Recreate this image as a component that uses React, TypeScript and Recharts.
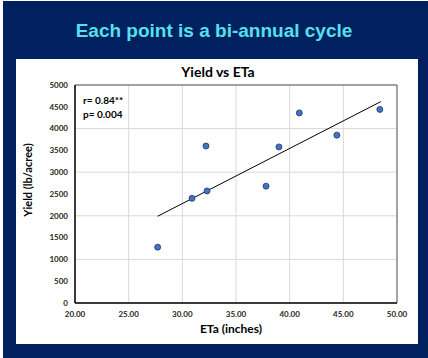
import React from "react"
import {
  ScatterChart,
  Scatter,
  XAxis,
  YAxis,
  CartesianGrid,
  ReferenceLine,
} from "recharts"

// ETa (inches) vs yield (lb/acre), one point per bi-annual cycle
const etaValues = [27.7, 30.9, 32.2, 32.3, 37.8, 39.0, 40.9, 44.4, 48.4]
const yieldValues = [1280, 2400, 3600, 2570, 2680, 3580, 4360, 3850, 4440]

// linear trend end points
const trendStart = { x: 27.7, y: 1990 }
const trendEnd = { x: 48.5, y: 4620 }

const xTicks = [20, 25, 30, 35, 40, 45, 50]
const yTicks = [0, 500, 1000, 1500, 2000, 2500, 3000, 3500, 4000, 4500, 5000]

const statLines = ["r= 0.84**", "p= 0.004"]

const points = etaValues.map((x, i) => ({ x, y: yieldValues[i] }))

const tickStyle = { fontSize: 8, fontWeight: 700, fill: "#262626", fontFamily: "Lato" }

const Dot = (props: any) => (
  <circle cx={props.cx} cy={props.cy} r={3} fill="#4472c4" stroke="#1f3864" strokeWidth={0.8} />
)

export default function App() {
  return (
    <div style={{ position: "absolute", left: 0, top: 0, width: 428, height: 358, background: "#ffffff" }}>
      <div style={{ position: "absolute", left: 3, top: 1, width: 425, height: 357, background: "#002060" }} />
      <div
        style={{
          position: "absolute",
          left: 0,
          top: 20,
          width: 428,
          textAlign: "center",
          color: "#55e0ee",
          fontFamily: "Liberation Sans",
          fontWeight: 700,
          fontSize: 19,
        }}
      >
        Each point is a bi-annual cycle
      </div>
      <div style={{ position: "absolute", left: 16, top: 59, width: 402, height: 285, background: "#ffffff" }}>
        <ScatterChart width={402} height={285} margin={{ top: 26, right: 21, left: 9, bottom: 16 }}>
          <CartesianGrid stroke="#d9d9d9" />
          <XAxis
            type="number"
            dataKey="x"
            domain={[20, 50]}
            ticks={xTicks}
            tickFormatter={(v: number) => v.toFixed(2)}
            tick={tickStyle}
            tickLine={false}
            tickSize={0}
            tickMargin={8}
            height={25}
            axisLine={{ stroke: "#000", strokeWidth: 1.5 }}
            allowDataOverflow
          />
          <YAxis
            type="number"
            dataKey="y"
            domain={[0, 5000]}
            ticks={yTicks}
            tick={tickStyle}
            tickLine={false}
            tickSize={0}
            tickMargin={7}
            width={50}
            axisLine={{ stroke: "#000", strokeWidth: 1.5 }}
            allowDataOverflow
          />
          <ReferenceLine x={50} stroke="#595959" strokeWidth={1} />
          <ReferenceLine y={5000} stroke="#595959" strokeWidth={1} />
          <ReferenceLine segment={[trendStart, trendEnd]} stroke="#000" strokeWidth={1} />
          <Scatter data={points} shape={Dot} isAnimationActive={false} />
        </ScatterChart>
        <div
          style={{
            position: "absolute",
            left: 0,
            top: 4,
            width: 404,
            textAlign: "center",
            fontFamily: "Lato",
            fontWeight: 700,
            fontSize: 14,
            color: "#000",
          }}
        >
          Yield vs ETa
        </div>
        {statLines.map((s, i) => (
          <div
            key={s}
            style={{
              position: "absolute",
              left: 67,
              top: 35 + i * 14,
              fontFamily: "Lato",
              fontWeight: 700,
              fontSize: 10,
              color: "#000",
              whiteSpace: "nowrap",
            }}
          >
            {s}
          </div>
        ))}
        <div
          style={{
            position: "absolute",
            left: 115,
            top: 262,
            width: 200,
            textAlign: "center",
            fontFamily: "Lato",
            fontWeight: 700,
            fontSize: 12,
            color: "#000",
          }}
        >
          ETa (inches)
        </div>
        <div
          style={{
            position: "absolute",
            left: 12 - 60,
            top: 121 - 8,
            width: 120,
            height: 16,
            lineHeight: "16px",
            textAlign: "center",
            transform: "rotate(-90deg)",
            fontFamily: "Lato",
            fontWeight: 700,
            fontSize: 11,
            color: "#000",
            whiteSpace: "nowrap",
          }}
        >
          Yield (lb/acree)
        </div>
      </div>
    </div>
  )
}
